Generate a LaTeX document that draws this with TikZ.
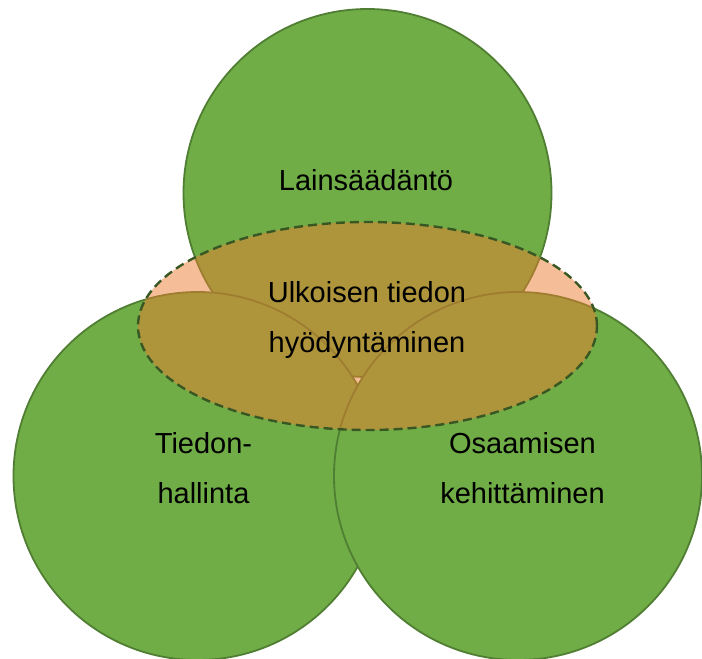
\documentclass[tikz,border=0pt]{standalone}
\usepackage{fontspec}
\setmainfont{Liberation Sans}
\usetikzlibrary{shapes.geometric}
\definecolor{cgreen}{HTML}{70AD47}
\definecolor{cgreenline}{HTML}{507E32}
\definecolor{corange}{HTML}{ED7D31}
\definecolor{cdash}{HTML}{385723}
\tikzset{
  venn/.style={circle, minimum size=368pt, inner sep=0pt, fill=cgreen, draw=cgreenline, line width=1.8pt},
  oval/.style={ellipse, minimum width=459pt, minimum height=208pt, inner sep=0pt,
    fill=corange, fill opacity=0.5, draw=cdash, draw opacity=1, line width=2.4pt,
    dash pattern=on 9pt off 5pt},
  lbl/.style={anchor=base, inner sep=0pt, font=\fontsize{29}{35}\selectfont, text=black}
}
\begin{document}
\begin{tikzpicture}[x=1pt,y=1pt]
\useasboundingbox (0,0) rectangle (702,-659);
\clip (0,0) rectangle (702,-659);
\node[venn] (top) at (367.5,-193) {};
\node[venn] (left) at (197.5,-476) {};
\node[venn] (right) at (518,-476) {};
\node[oval] (mid) at (367.5,-326) {};
\node[lbl] (t1) at (366,-190) {Lainsäädäntö};
\node[lbl] (m1) at (367,-302.5) {Ulkoisen tiedon};
\node[lbl] (m2) at (367,-352.5) {hyödyntäminen};
\node[lbl] (l1) at (203.5,-453) {Tiedon-};
\node[lbl] (l2) at (203.5,-503) {hallinta};
\node[lbl] (r1) at (522.5,-453) {Osaamisen};
\node[lbl] (r2) at (522.5,-503) {kehittäminen};
\end{tikzpicture}
\end{document}
